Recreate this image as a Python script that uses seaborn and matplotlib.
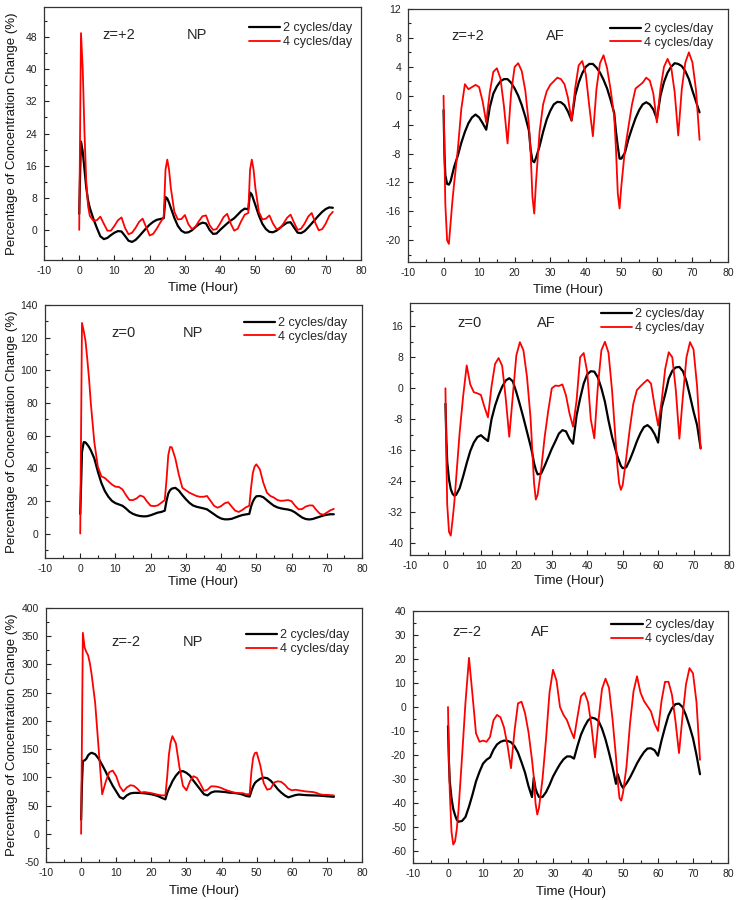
import numpy as np
import pandas as pd
import matplotlib
matplotlib.use("Agg")
import matplotlib.pyplot as plt
import seaborn as sns
from matplotlib.ticker import MultipleLocator

# grade de tempo (horas): dia 1 | dia 2 | dia 3
hours = ([0, 0.25, 0.5, 1, 1.5, 2, 2.5] + list(range(3, 24))
         + [24, 24.5, 25, 25.5] + list(range(26, 48))
         + [48, 48.5, 49, 49.5] + list(range(50, 73)))

# z=+2, NP
np_p2_c2 = ([4, 14, 22, 19.5, 15, 10.5, 7.4, 5.5, 2.8, 0.5, -1.6, -2.3, -2.0, -1.3, -0.7, -0.3, -0.4, -1.5, -2.7, -3.0, -2.5, -1.6, -0.6, 0.4, 1.3, 2.0, 2.5, 2.7]
            + [2.9, 8.2, 7.8, 6.8, 5.5, 3.0, 1.0, -0.2, -0.7, -0.6, -0.1, 0.7, 1.4, 1.8, 1.6, 0.0, -1.0, -0.9, 0.0, 0.8, 1.6, 2.3, 2.9, 3.8, 4.7, 5.3]
            + [5.1, 9.3, 8.8, 7.5, 6.2, 3.6, 1.5, 0.2, -0.5, -0.6, -0.2, 0.5, 1.2, 1.8, 1.9, 0.6, -0.7, -0.8, -0.3, 0.6, 1.6, 2.6, 3.6, 4.5, 5.2, 5.6, 5.5])
np_p2_c4 = ([0, 25, 49, 40, 24, 12, 6, 3.5, 2.3, 2.4, 3.3, 1.5, -0.2, -0.2, 1.0, 2.4, 3.1, 0.5, -1.1, -0.7, 0.5, 2.0, 2.8, 0.7, -1.4, -1.0, 0.3, 1.8]
            + [3.2, 15, 17.5, 15, 10.5, 4.5, 2.6, 2.7, 3.7, 1.4, 0.2, 0.8, 2.2, 3.4, 3.6, 1.2, 0.0, 0.2, 1.6, 3.2, 4.0, 1.6, -0.2, 0.3, 2.2, 3.8]
            + [4.2, 15, 17.5, 15, 10.5, 4.5, 2.6, 2.8, 3.6, 1.6, 0.2, 0.4, 1.6, 3.0, 3.8, 1.8, 0.0, 0.3, 1.6, 3.3, 4.2, 1.8, -0.1, 0.2, 1.6, 3.5, 4.5])

# z=+2, AF
af_p2_c2 = ([-2, -8, -11, -12.2, -12.3, -11.8, -10.8, -9.8, -8.3, -6.5, -5.0, -3.8, -3.0, -2.6, -3.0, -3.8, -4.7, -1.6, 0.3, 1.3, 2.0, 2.3, 2.3, 1.8, 1.0, 0.0, -1.3, -2.9]
            + [-4.8, -7.5, -9.0, -9.2, -8.6, -7.0, -5.0, -3.3, -2.1, -1.2, -0.85, -0.9, -1.3, -2.2, -3.4, 0.0, 1.8, 3.1, 4.0, 4.4, 4.4, 3.9, 3.2, 2.2, 1.0, -0.6]
            + [-2.4, -5.0, -7.0, -8.7, -8.7, -7.9, -6.0, -4.5, -3.1, -2.0, -1.2, -0.9, -1.2, -1.9, -3.2, 0.0, 1.9, 3.2, 4.0, 4.5, 4.4, 4.1, 3.4, 2.3, 0.7, -0.8, -2.3])
af_p2_c4 = ([0, -8, -15, -20, -20.5, -17.5, -14.5, -12, -7.5, -1.8, 1.6, 0.9, 1.2, 1.5, 1.2, -0.8, -3.7, 0.5, 3.3, 3.8, 2.4, -1.5, -6.6, 0.4, 4.0, 4.5, 3.4, 0.7]
            + [-4.0, -8, -14, -16.3, -12, -5, -1.2, 0.6, 1.5, 2.0, 2.5, 2.3, 1.6, -0.3, -3.5, 1.0, 4.2, 4.8, 3.0, -1.5, -5.6, 0.9, 4.5, 5.6, 3.8, 0.8]
            + [-2.9, -7.5, -13.5, -15.6, -12.5, -7.5, -4.3, -1.2, 1.0, 1.4, 1.8, 2.5, 2.1, 0.3, -3.7, 1.0, 4.0, 5.1, 4.0, 0.5, -5.5, 0.9, 4.6, 6.0, 4.6, 0.8, -6.1])

# z=0, NP
np_0_c2 = ([12, 30, 50, 56, 55.8, 54.5, 53, 51, 46, 38, 31, 26, 22.5, 20, 18.6, 17.8, 17, 15.3, 13.3, 12, 11.2, 10.7, 10.5, 10.6, 11.2, 12, 12.8, 13.2]
           + [14, 20, 24.5, 26.5, 27.5, 28, 26.3, 23.5, 21, 18.8, 17.2, 16.4, 15.9, 15.4, 14.8, 13.3, 11.8, 10.3, 9.2, 8.7, 8.7, 9, 9.8, 10.6, 11.3, 11.7]
           + [12, 16.5, 19.5, 21.5, 22.8, 23, 22.2, 20.4, 18.6, 17, 16, 15.4, 15, 14.7, 14.1, 12.9, 11.3, 9.8, 8.9, 8.6, 8.9, 9.6, 10.3, 11, 11.5, 11.8, 11.8])
np_0_c4 = ([0, 65, 129, 124, 118, 107, 95, 80, 56, 41, 35, 34, 32, 30, 28.7, 28.5, 27, 23.5, 20.5, 20.5, 21.5, 23.3, 22.5, 19.5, 17, 16.8, 17.2, 18.8]
           + [20.5, 33, 48, 53, 52.8, 46, 36, 28, 26.5, 25, 24, 23, 22.5, 22.5, 23, 20, 17, 15.8, 16.8, 18.5, 19.2, 16.5, 14, 13.2, 14.4, 16]
           + [17, 28, 37, 41, 42.4, 39.3, 31, 25, 23, 22, 20.5, 20, 20.2, 20.5, 19.8, 17, 14.8, 15, 16.5, 17.2, 17.2, 14.5, 12.2, 11.5, 12.8, 14.2, 15.1])

# z=0, AF
af_0_c2 = ([-4, -13, -19, -23.5, -26, -27.2, -27.7, -27.5, -25.8, -22.7, -19.3, -16.2, -14, -12.6, -12.1, -12.9, -13.6, -8, -4.5, -1.8, 0.4, 2, 2.6, 1.8, -1, -4.2, -7.6, -11.2]
           + [-14.8, -16.8, -19.3, -21, -22.2, -22, -20, -17.8, -15.6, -13.7, -11.7, -10.8, -11.1, -13, -14.3, -7, -2.6, 1.2, 3.6, 4.4, 4.3, 2.8, 0, -3.5, -8.3, -12.5]
           + [-15.9, -17.5, -18.8, -20, -20.6, -20.4, -18.5, -16.2, -13.7, -11.6, -10, -9.5, -10.3, -11.8, -14, -5, -1.5, 2.5, 4.5, 5.4, 5.5, 4.4, 1.8, -2, -6, -9.5, -15.5])
af_0_c4 = ([0, -18, -30, -37, -38, -34, -29.5, -23.5, -11.5, -2, 5.9, 1, -1, -1.3, -1.7, -4.8, -7.5, 0.5, 6.3, 7.8, 5.8, -2.5, -12.5, -2, 8.5, 11.9, 9.8, 3]
           + [-7.5, -16, -24.5, -28.7, -27.5, -21, -12.5, -5.8, 0, 0.7, 0.6, 1.0, -1.8, -6.5, -9.9, -3.1, 8, 9.1, 4.2, -8, -12.9, 0.5, 9.8, 12, 9.2, -0.5]
           + [-13.3, -20, -24.5, -26.2, -25, -18, -10.5, -4, -0.5, 0.5, 1.4, 2.2, 1.2, -4.5, -9.6, -3.2, 5, 9.3, 8, -0.5, -13, -2, 8, 11.9, 10, 0.5, -15.5])

# z=-2, NP
np_m2_c2 = ([25, 90, 129, 130, 133, 139, 142, 143.5, 141, 133, 122, 110, 97, 85, 75, 65, 62, 68, 71.5, 72.5, 72.5, 72.3, 71.8, 71, 70, 68.5, 66.5, 63.5]
            + [61, 72, 80, 86, 93, 103, 110, 111, 108, 103, 94, 86, 78, 70, 68, 73, 75, 75, 74.5, 74, 73, 72.5, 72, 71, 69.5, 67]
            + [66, 76, 84, 90, 93, 97.5, 99.5, 98.5, 94, 87, 79, 73, 68, 64.5, 66.5, 68.5, 69.5, 69, 68.5, 68.2, 68, 67.8, 67.5, 67, 66.5, 66, 65.5])
np_m2_c4 = ([0, 180, 356, 330, 322, 316, 302, 282, 232, 150, 70, 92, 109, 112, 102, 84, 75, 82, 86, 85, 80, 73, 74, 73, 72, 70.5, 69, 68]
            + [68, 100, 140, 162, 173, 160, 118, 85, 77, 93, 102, 99, 88, 76, 78, 84, 84, 83, 81, 78, 76, 74, 72.5, 72, 72, 70]
            + [70, 110, 135, 143, 144, 122, 90, 78, 80, 91, 93, 92, 87, 80, 77, 78, 77, 76, 75, 74.5, 74, 72.5, 70, 69, 69, 68.5, 68])

# z=-2, AF
af_m2_c2 = ([-8, -22, -31, -38, -42.5, -45, -47, -47.8, -47.5, -45.8, -41.5, -36.5, -31, -27, -23.6, -22, -21, -17.8, -15.6, -14.5, -14, -14.1, -14.7, -16.3, -19, -23, -27.3, -33]
            + [-37.5, -29.5, -34, -36, -37.5, -37.5, -35.5, -32.5, -29, -26.3, -23.8, -21.8, -20.6, -20.6, -21.5, -16.2, -11.5, -8.2, -5.6, -4.4, -4.8, -5.8, -9, -13.5, -19, -25]
            + [-32, -28, -30.5, -32.5, -33.7, -31.8, -29.4, -26.5, -23.5, -21, -18.8, -17.3, -17.2, -18, -20.3, -14, -8.5, -3.5, -0.5, 1.2, 1.4, 0, -3.5, -8, -13, -20, -28])
af_m2_c4 = ([0, -20, -35, -52, -57.3, -56, -51, -43, -21, 2, 20.5, 5, -11, -14.5, -14, -14.5, -12.5, -5.5, -3.3, -4.3, -8.5, -16, -25.5, -10, 1.5, 2.2, -2.5, -10.5]
            + [-22, -29, -40, -44.8, -42, -30, -13.5, 6, 15.5, 11, 0, -3.3, -5.5, -9.5, -13, -4, 4.5, 6, 2, -8, -21, -5.5, 7.5, 11.8, 8, -5]
            + [-21, -31, -38, -39, -35.8, -24.8, -7, 6.5, 12.8, 6, 2.5, 0.3, -1.9, -6.8, -10, 2.5, 10.5, 10.5, 5, -6, -19.2, -4, 9.5, 16.2, 14, 2, -22])

z_labels = ["z=+2", "z=+2", "z=0", "z=0", "z=-2", "z=-2"]
model_labels = ["NP", "AF", "NP", "AF", "NP", "AF"]
series_names = ["2 cycles/day", "4 cycles/day"]

sns.set_style("ticks")
plt.rcParams["font.family"] = ["Liberation Sans", "DejaVu Sans"]
plt.rcParams["axes.unicode_minus"] = False
plt.rcParams["axes.edgecolor"] = "#333333"
plt.rcParams["axes.linewidth"] = 0.9

W, H = 740, 900
fig = plt.figure(figsize=(W / 100, H / 100), dpi=100)

# caixas em pixels: esquerda, direita, topo, base
boxes = [(44, 361, 7, 260), (408, 728, 9, 262),
         (45, 362, 305, 558), (410, 729, 303, 555),
         (46, 362, 608, 862), (413, 728, 611, 863)]
ylims = [(-7.5, 55.5), (-23, 12), (-15, 140), (-43, 22), (-50, 400), (-65, 40)]
ysteps = [8, 4, 20, 8, 50, 10]
curves = [(np_p2_c2, np_p2_c4), (af_p2_c2, af_p2_c4),
          (np_0_c2, np_0_c4), (af_0_c2, af_0_c4),
          (np_m2_c2, np_m2_c4), (af_m2_c2, af_m2_c4)]
text_pos = [(0.183, 0.45, 0.889), (0.137, 0.43, 0.893),
            (0.208, 0.433, 0.89), (0.148, 0.397, 0.919),
            (0.208, 0.434, 0.867), (0.126, 0.375, 0.915)]
leg_pos = [(0.972, 0.94), (0.953, 0.945), (0.953, 0.953),
           (0.922, 0.98), (0.959, 0.917), (0.956, 0.968)]
xlab_y = [-0.085, -0.085, -0.07, -0.08, -0.09, -0.09]

for i, (l, r, t, b) in enumerate(boxes):
    ax = fig.add_axes([l / W, 1 - b / H, (r - l) / W, (b - t) / H])
    c2, c4 = curves[i]
    sns.lineplot(x=hours, y=c2, ax=ax, color="black", lw=1.6,
                 label=series_names[0], estimator=None, sort=False)
    sns.lineplot(x=hours, y=c4, ax=ax, color="#ff0000", lw=1.3,
                 label=series_names[1], estimator=None, sort=False)

    ax.set_xlim(-10, 80)
    ax.set_ylim(*ylims[i])
    ax.xaxis.set_major_locator(MultipleLocator(10))
    ax.xaxis.set_minor_locator(MultipleLocator(5))
    ax.yaxis.set_major_locator(MultipleLocator(ysteps[i]))
    ax.yaxis.set_minor_locator(MultipleLocator(ysteps[i] / 2))
    ax.tick_params(which="both", direction="in", colors="#222222", width=0.8)
    ax.tick_params(which="major", length=3.5, labelsize=7.5)
    ax.tick_params(which="minor", length=2)
    ax.tick_params(axis="x", pad=4)
    ax.tick_params(axis="y", pad=5)
    for s in ax.spines.values():
        s.set_visible(True)

    ax.set_xlabel("Time (Hour)", fontsize=9.5, color="#111111")
    ax.xaxis.set_label_coords(0.5, xlab_y[i])
    if i % 2 == 0:
        ax.set_ylabel("Percentage of Concentration Change (%)", fontsize=9.5, color="#111111")
        ax.yaxis.set_label_coords((18 - l) / (r - l), 0.5)
    else:
        ax.set_ylabel("")

    zx, mx, ty = text_pos[i]
    ax.text(zx, ty, z_labels[i], transform=ax.transAxes, fontsize=10.5, va="center", ha="left")
    ax.text(mx, ty, model_labels[i], transform=ax.transAxes, fontsize=10.5, va="center", ha="left")

    ax.legend(loc="upper right", bbox_to_anchor=leg_pos[i], frameon=False, fontsize=9,
              handlelength=2.5, handletextpad=0.2, labelspacing=0.15,
              borderaxespad=0, borderpad=0)

fig.savefig("out.png", dpi=100, facecolor="white")
